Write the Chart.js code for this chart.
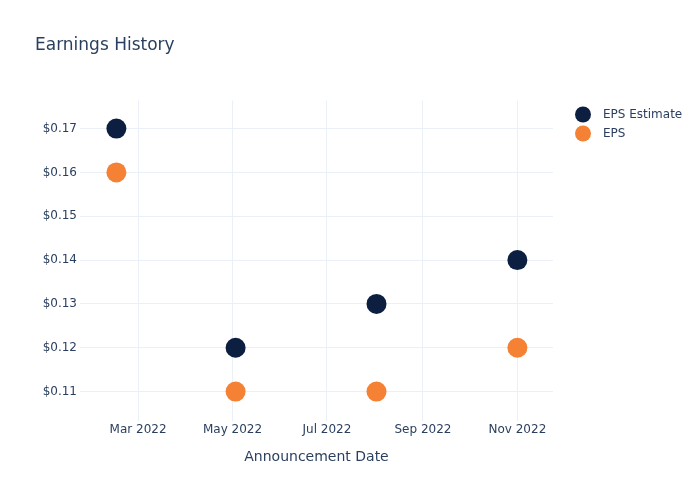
<!DOCTYPE html>
<html>
<head>
<meta charset="utf-8">
<script src="https://cdn.jsdelivr.net/npm/chart.js@4.4.1/dist/chart.umd.min.js"></script>
<style>
  body { margin: 0; background: #fff; }
</style>
</head>
<body>
<canvas id="epsChart" width="700" height="500"></canvas>
<script>
const dates = ['2022-02-15', '2022-05-03', '2022-08-02', '2022-11-01'];
const epsEstimate = [0.17, 0.12, 0.13, 0.14];
const epsActual = [0.16, 0.11, 0.11, 0.12];
const xTickDates = ['2022-03-01', '2022-05-01', '2022-07-01', '2022-09-01', '2022-11-01'];
const xTickLabels = ['Mar 2022', 'May 2022', 'Jul 2022', 'Sep 2022', 'Nov 2022'];
const yTicks = [0.11, 0.12, 0.13, 0.14, 0.15, 0.16, 0.17];

const DAY = 86400000;
const ts = d => Date.parse(d + 'T00:00:00Z');
const textColor = '#2a3f5f';
const gridColor = '#ebf0f8';
const navy = '#0c1f40';
const orange = '#f58134';
const fontFamily = "'DejaVu Sans', Verdana, sans-serif";

Chart.defaults.font.family = fontFamily;
Chart.defaults.color = textColor;

const toPoints = vals => vals.map((v, i) => ({ x: ts(dates[i]), y: v }));

// title + legend drawn on the canvas
const decor = {
    id: 'decor',
    afterDraw(chart) {
        const c = chart.ctx;
        c.save();
        c.fillStyle = textColor;
        c.textBaseline = 'middle';
        c.font = '17px ' + fontFamily;
        c.fillText('Earnings History', 35, 45.5);
        c.font = '12px ' + fontFamily;
        chart.data.datasets.forEach((ds, i) => {
            const y = 114.5 + i * 19;
            c.beginPath();
            c.arc(583, y, 8, 0, Math.PI * 2);
            c.fillStyle = ds.backgroundColor;
            c.fill();
            c.fillStyle = textColor;
            c.fillText(ds.label, 603, y);
        });
        c.restore();
    }
};

new Chart(document.getElementById('epsChart'), {
    type: 'scatter',
    data: {
        datasets: [
            { label: 'EPS Estimate', data: toPoints(epsEstimate), backgroundColor: navy, borderColor: navy, pointRadius: 10, pointHoverRadius: 10, borderWidth: 0 },
            { label: 'EPS', data: toPoints(epsActual), backgroundColor: orange, borderColor: orange, pointRadius: 10, pointHoverRadius: 10, borderWidth: 0 }
        ]
    },
    options: {
        responsive: false,
        animation: false,
        layout: { padding: { top: 100.5, right: 147, left: 0, bottom: 0 } },
        plugins: { legend: { display: false }, tooltip: { enabled: false } },
        scales: {
            x: {
                type: 'linear',
                min: ts('2022-03-01') - 37.5 * DAY,
                max: ts('2022-11-01') + 23 * DAY,
                afterFit: s => { s.height = 79.5; },
                afterBuildTicks: s => { s.ticks = xTickDates.map(d => ({ value: ts(d) })); },
                ticks: {
                    padding: 2, maxRotation: 0, autoSkip: false, font: { size: 12 },
                    callback: (v, i) => xTickLabels[i]
                },
                grid: { color: gridColor, drawTicks: false },
                border: { display: false },
                title: { display: true, text: 'Announcement Date', font: { size: 14 }, padding: { top: 0, bottom: 34 } }
            },
            y: {
                min: 0.1034,
                max: 0.1764,
                afterFit: s => { s.width = 80; },
                afterBuildTicks: s => { s.ticks = yTicks.map(v => ({ value: v })); },
                ticks: { padding: 3, font: { size: 12 }, callback: v => '$' + v.toFixed(2) },
                grid: { color: gridColor, drawTicks: false },
                border: { display: false }
            }
        }
    },
    plugins: [decor]
});
</script>
</body>
</html>
